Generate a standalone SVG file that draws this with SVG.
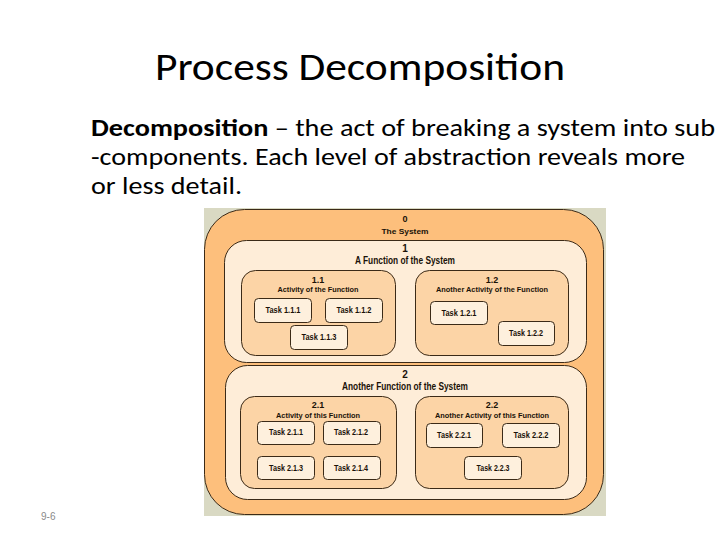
<svg xmlns="http://www.w3.org/2000/svg" width="720" height="540" viewBox="0 0 720 540">
<style>
.slide{font-family:Carlito,Lato,"Open Sans",sans-serif;fill:#000}
.lvl0{fill:#fdbf7c;stroke:#3b2a17;stroke-width:1}
.lvl1{fill:#feedd8;stroke:#3b2a17;stroke-width:1}
.lvl2{fill:#fcd4a6;stroke:#3b2a17;stroke-width:1}
.task{fill:#fef0dd;stroke:#3b2a17;stroke-width:1}
.t{font-family:"Liberation Sans",Arial,sans-serif;font-weight:bold;fill:#1a1208;text-anchor:middle}
.s8{font-size:8px}
.tk{font-size:8.5px}
.s9{font-size:9px}
.s10{font-size:10px}
</style>
<rect width="720" height="540" fill="#ffffff"/>
<text class="slide" x="155" y="80" font-size="38" textLength="410" lengthAdjust="spacingAndGlyphs">Process Decomposition</text>
<text class="slide" x="91" y="136" font-size="24" textLength="624" lengthAdjust="spacingAndGlyphs"><tspan font-weight="bold">Decomposition</tspan> – the act of breaking a system into sub</text>
<text class="slide" x="91" y="165" font-size="24" textLength="594" lengthAdjust="spacingAndGlyphs">-components. Each level of abstraction reveals more</text>
<text class="slide" x="91" y="194" font-size="24" textLength="151" lengthAdjust="spacingAndGlyphs">or less detail.</text>
<text x="41" y="520" font-family="Liberation Sans,Arial,sans-serif" font-size="10" fill="#8a8a8a">9-6</text>

<rect x="204" y="208" width="402" height="308" fill="#d9d9c3"/>

<g id="n0">
<rect class="lvl0" x="204.5" y="209.5" width="399" height="305" rx="40"/>
<text class="t s9" x="405" y="222">0</text>
<text class="t s8" x="405" y="234" textLength="47" lengthAdjust="spacingAndGlyphs">The System</text>
</g>

<g id="n1">
<rect class="lvl1" x="224.5" y="240.5" width="362" height="122" rx="22"/>
<text class="t s10" x="405" y="252">1</text>
<text class="t s10" x="405" y="264" textLength="100" lengthAdjust="spacingAndGlyphs" font-weight="normal">A Function of the System</text>
</g>

<g id="n11">
<rect class="lvl2" x="241.5" y="270.5" width="154" height="85" rx="14"/>
<text class="t s9" x="318" y="283">1.1</text>
<text class="t s8" x="318" y="292" textLength="81" lengthAdjust="spacingAndGlyphs">Activity of the Function</text>
</g>
<g id="n12">
<rect class="lvl2" x="415.5" y="270.5" width="153" height="85" rx="14"/>
<text class="t s9" x="492" y="283">1.2</text>
<text class="t s8" x="492" y="292" textLength="112" lengthAdjust="spacingAndGlyphs">Another Activity of the Function</text>
</g>

<g id="n111"><rect class="task" x="254.5" y="298.5" width="57" height="24" rx="4"/><text class="t tk" x="283" y="313" textLength="35" lengthAdjust="spacingAndGlyphs">Task 1.1.1</text></g>
<g id="n112"><rect class="task" x="325.5" y="298.5" width="57" height="24" rx="4"/><text class="t tk" x="354" y="313" textLength="35" lengthAdjust="spacingAndGlyphs">Task 1.1.2</text></g>
<g id="n113"><rect class="task" x="290.5" y="325.5" width="57" height="24" rx="4"/><text class="t tk" x="319" y="340" textLength="35" lengthAdjust="spacingAndGlyphs">Task 1.1.3</text></g>
<g id="n121"><rect class="task" x="430.5" y="301.5" width="57" height="23" rx="4"/><text class="t tk" x="459" y="316" textLength="35" lengthAdjust="spacingAndGlyphs">Task 1.2.1</text></g>
<g id="n122"><rect class="task" x="498.5" y="321.5" width="56" height="24" rx="4"/><text class="t tk" x="526" y="336" textLength="34" lengthAdjust="spacingAndGlyphs">Task 1.2.2</text></g>

<g id="n2">
<rect class="lvl1" x="225.5" y="365.5" width="361" height="134" rx="22"/>
<text class="t s10" x="405" y="378">2</text>
<text class="t s10" x="405" y="390" textLength="126" lengthAdjust="spacingAndGlyphs" font-weight="normal">Another Function of the System</text>
</g>

<g id="n21">
<rect class="lvl2" x="240.5" y="396.5" width="156" height="92" rx="14"/>
<text class="t s9" x="318" y="408">2.1</text>
<text class="t s8" x="318" y="418" textLength="84" lengthAdjust="spacingAndGlyphs">Activity of this Function</text>
</g>
<g id="n22">
<rect class="lvl2" x="415.5" y="396.5" width="153" height="92" rx="14"/>
<text class="t s9" x="492" y="408">2.2</text>
<text class="t s8" x="492" y="418" textLength="114" lengthAdjust="spacingAndGlyphs">Another Activity of this Function</text>
</g>

<g id="n211"><rect class="task" x="257.5" y="421.5" width="57" height="23" rx="4"/><text class="t tk" x="286" y="435" textLength="34" lengthAdjust="spacingAndGlyphs">Task 2.1.1</text></g>
<g id="n212"><rect class="task" x="323.5" y="421.5" width="57" height="23" rx="4"/><text class="t tk" x="351" y="435" textLength="34" lengthAdjust="spacingAndGlyphs">Task 2.1.2</text></g>
<g id="n213"><rect class="task" x="257.5" y="456.5" width="57" height="23" rx="4"/><text class="t tk" x="286" y="471" textLength="34" lengthAdjust="spacingAndGlyphs">Task 2.1.3</text></g>
<g id="n214"><rect class="task" x="323.5" y="456.5" width="57" height="23" rx="4"/><text class="t tk" x="351" y="471" textLength="34" lengthAdjust="spacingAndGlyphs">Task 2.1.4</text></g>
<g id="n221"><rect class="task" x="426.5" y="423.5" width="56" height="24" rx="4"/><text class="t tk" x="454" y="438" textLength="34" lengthAdjust="spacingAndGlyphs">Task 2.2.1</text></g>
<g id="n222"><rect class="task" x="502.5" y="423.5" width="57" height="24" rx="4"/><text class="t tk" x="531" y="438" textLength="35" lengthAdjust="spacingAndGlyphs">Task 2.2.2</text></g>
<g id="n223"><rect class="task" x="464.5" y="456.5" width="57" height="23" rx="4"/><text class="t tk" x="493" y="471" textLength="33" lengthAdjust="spacingAndGlyphs">Task 2.2.3</text></g>

<g id="connectors"></g>
</svg>
